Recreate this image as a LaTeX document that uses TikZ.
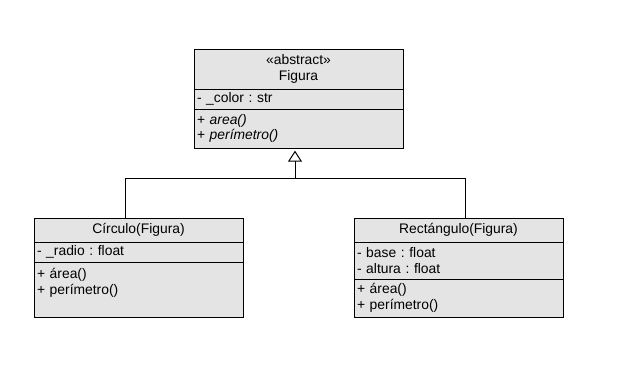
\documentclass[tikz,border=0pt]{standalone}
\usepackage{fontspec}
\setmainfont{Liberation Sans}
\usetikzlibrary{arrows.meta,positioning}
\definecolor{classfill}{HTML}{E4E4E4}
\frenchspacing

\begin{document}
\begin{tikzpicture}[
    x=0.75pt, y=-0.75pt,
    every node/.style={font=\fontsize{10.4pt}{11.8pt}\selectfont},
    classpart/.style={draw, fill=classfill, line width=0.75pt, outer sep=0pt,
        inner xsep=2.25pt, inner ysep=0pt, text width=152.25pt, align=left},
    classhead/.style={classpart, align=center, anchor=north west},
    link/.style={line width=0.75pt},
]
\useasboundingbox (0,0) rectangle (629,375);

% Abstract base class
\node[classhead, minimum height=30pt] (fighead) at (194,49) {«abstract»\\Figura};
\node[classpart, minimum height=15pt, below=0pt of fighead] (figattr) {- \_color : str};
\node[classpart, minimum height=29.25pt, below=0pt of figattr] (figmeth)
    {+ \textit{area()}\\+ \textit{perímetro()}};

% Circulo
\node[classhead, minimum height=18pt] (circhead) at (34,218) {Círculo(Figura)};
\node[classpart, minimum height=15pt, below=0pt of circhead] (circattr) {- \_radio : float};
\node[classpart, minimum height=41.25pt, below=0pt of circattr] (circmeth)
    {+ área()\\+ perímetro()\\\mbox{}};

% Rectangulo
\node[classhead, minimum height=18pt] (recthead) at (354,218) {Rectángulo(Figura)};
\node[classpart, minimum height=27.75pt, below=0pt of recthead] (rectattr)
    {- base : float\\- altura : float};
\node[classpart, minimum height=28.5pt, below=0pt of rectattr] (rectmeth)
    {+ área()\\+ perímetro()};

% Inheritance
\coordinate (jl) at (125,178);
\coordinate (jm) at (295,178);
\coordinate (jr) at (465,178);
\draw[link] (circhead.north -| jl) -- (jl) -- (jr) -- (recthead.north -| jr);
\draw[link, -{Triangle[open, length=8.25pt, width=10.5pt]}, shorten >=2pt]
    (jm) -- (jm |- figmeth.south);

\end{tikzpicture}
\end{document}
